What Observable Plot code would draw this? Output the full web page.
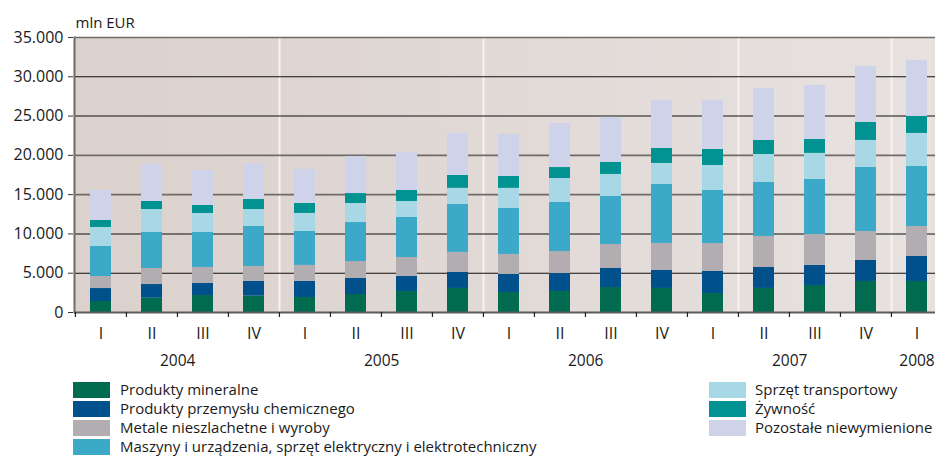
<!DOCTYPE html>
<html>
<head>
<meta charset="utf-8">
<script src="https://cdn.jsdelivr.net/npm/d3@7"></script>
<script src="https://cdn.jsdelivr.net/npm/@observablehq/plot@0.6"></script>
<style>
  html, body { margin: 0; padding: 0; background: #fff; overflow: hidden; }
  #wrap { position: relative; width: 935px; height: 456px; font-family: "Open Sans", sans-serif; color: #1a1a1a; }
  .lg { position: absolute; font-size: 15px; line-height: 16px; white-space: nowrap; }
  .sw { position: absolute; width: 37px; height: 16px; }
</style>
</head>
<body>
<div id="wrap"></div>
<script>
// ---- data ----
const periods = ["2004 I","2004 II","2004 III","2004 IV","2005 I","2005 II","2005 III","2005 IV",
  "2006 I","2006 II","2006 III","2006 IV","2007 I","2007 II","2007 III","2007 IV","2008 I"];
const quarterLabels = ["I","II","III","IV","I","II","III","IV","I","II","III","IV","I","II","III","IV","I"];
const years = ["2004","2005","2006","2007","2008"];
const seriesNames = ["Produkty mineralne","Produkty przemysłu chemicznego","Metale nieszlachetne i wyroby",
  "Maszyny i urządzenia, sprzęt elektryczny i elektrotechniczny","Sprzęt transportowy","Żywność","Pozostałe niewymienione"];
const seriesColors = ["#006b4e","#00508b","#b1adb1","#3ca9c8","#a8d7e5","#009391","#cfd3e9"];
const mineral   = [1400,1820,2160,2080,1910,2290,2670,3060,2550,2670,3180,3060,2420,3060,3440,3950,3950];
const chemical  = [1650,1740,1530,1870,2040,2040,1910,2040,2290,2290,2420,2290,2800,2670,2550,2670,3180];
const metals    = [1530,2040,2040,1910,2040,2160,2420,2550,2550,2800,3060,3440,3560,3950,3950,3690,3820];
const machines  = [3820,4580,4450,5090,4330,4960,5090,6110,5860,6240,6110,7510,6750,6870,7000,8150,7640];
const transport = [2420,2930,2420,2160,2290,2420,2040,2040,2550,3050,2800,2670,3180,3560,3310,3440,4200];
const food      = [ 890,1020,1020,1270,1270,1270,1400,1650,1530,1400,1530,1910,2040,1780,1780,2290,2160];
const other     = [3820,4750,4450,4580,4330,4710,4840,5350,5350,5600,5730,6110,6240,6620,6870,7130,7130];
const yTicks = [0,5000,10000,15000,20000,25000,30000,35000];
const separatorsAfter = ["2004 IV","2005 IV","2007 I","2007 IV"];

// ---- build table ----
const seriesValues = [mineral, chemical, metals, machines, transport, food, other];
const rows = [];
periods.forEach((p, i) => seriesValues.forEach((vals, s) => rows.push({period: p, series: seriesNames[s], value: vals[i]})));

const W = 935, H = 375, ML = 74, MT = 37, MB = 63, MR = -8;
const step = (W - MR - ML) / periods.length;
const yearInfo = years.map(y => {
  const idx = periods.map((p, i) => p.startsWith(y) ? i : -1).filter(i => i >= 0);
  return {year: y, first: periods[idx[0]], n: idx.length};
});
const fmt = d => d === 0 ? "0" : d3.format(",")(d).replace(/,/g, ".");
const heavy = d => d === 15000 || d === 20000 || d === 35000;

const defs = () => {
  const g = document.createElementNS("http://www.w3.org/2000/svg", "defs");
  g.innerHTML = '<linearGradient id="bgGrad" x1="0" x2="1" y1="0" y2="0">' +
    '<stop offset="0" stop-color="#dbd1cd"/><stop offset="1" stop-color="#e7e2e0"/></linearGradient>';
  return g;
};

const chart = Plot.plot({
  width: W, height: H,
  marginLeft: ML, marginRight: MR, marginTop: MT, marginBottom: MB,
  style: {fontFamily: "'Open Sans', sans-serif", fontSize: "15px", color: "#1a1a1a", background: "transparent"},
  x: {domain: periods, paddingInner: 0.59, paddingOuter: 0.295, axis: null},
  y: {domain: [0, 35000], axis: null},
  color: {domain: seriesNames, range: seriesColors},
  marks: [
    defs,
    Plot.frame({fill: "url(#bgGrad)", stroke: null}),
    Plot.ruleX(separatorsAfter, {x: d => d, dx: step / 2, stroke: "#f6f3f1", strokeWidth: 2}),
    Plot.ruleY(yTicks.filter(d => d > 0), {y: d => d, stroke: d => heavy(d) ? "#6f6b69" : "#111", strokeWidth: d => heavy(d) ? 1.6 : 1.1}),
    Plot.barY(rows, {x: "period", y: "value", fill: "series"}),
    Plot.frame({anchor: "left", stroke: "#6f6b69", strokeWidth: 2}),
    Plot.ruleY([0], {y: d => d, stroke: "#5f5b59", strokeWidth: 2}),
    Plot.axisY({ticks: yTicks, tickFormat: fmt, tickSize: 5, tickPadding: 5, fontSize: 16, label: null, stroke: "#333", dx: -1}),
    Plot.ruleX(periods, {x: d => d, dx: -step / 2, y1: 0, y2: 0, insetBottom: -5, stroke: "#222", strokeWidth: 1.2}),
    Plot.text(periods, {x: d => d, text: (d, i) => quarterLabels[i], frameAnchor: "bottom", dy: 21, lineAnchor: "middle", fontSize: 16, fill: "#1a1a1a"}),
    ...yearInfo.map(d => Plot.text([d], {x: "first", text: "year", dx: (d.n - 1) / 2 * step, frameAnchor: "bottom", dy: 49, lineAnchor: "middle", fontSize: 15.5, fill: "#1a1a1a"})),
    Plot.text(["mln EUR"], {frameAnchor: "top-left", text: d => d, textAnchor: "start", lineAnchor: "bottom", dx: 1, dy: -10, fontSize: 15, fill: "#1a1a1a"})
  ]
});
chart.style.position = "absolute";
chart.style.left = "0px";
chart.style.top = "0px";
const wrap = document.getElementById("wrap");
wrap.appendChild(chart);

// ---- legend (below the chart) ----
const legendPos = [[73,382],[73,401],[73,420],[73,439],[709,382],[709,401],[709,420]];
seriesNames.forEach((name, i) => {
  const [lx, ly] = legendPos[i];
  const sw = document.createElement("div");
  sw.className = "sw";
  sw.style.left = lx + "px"; sw.style.top = ly + "px"; sw.style.background = seriesColors[i];
  wrap.appendChild(sw);
  const t = document.createElement("div");
  t.className = "lg";
  t.textContent = name;
  t.style.left = (lx + (i < 4 ? 47 : 46)) + "px"; t.style.top = (ly - 1) + "px";
  wrap.appendChild(t);
});
</script>
</body>
</html>
